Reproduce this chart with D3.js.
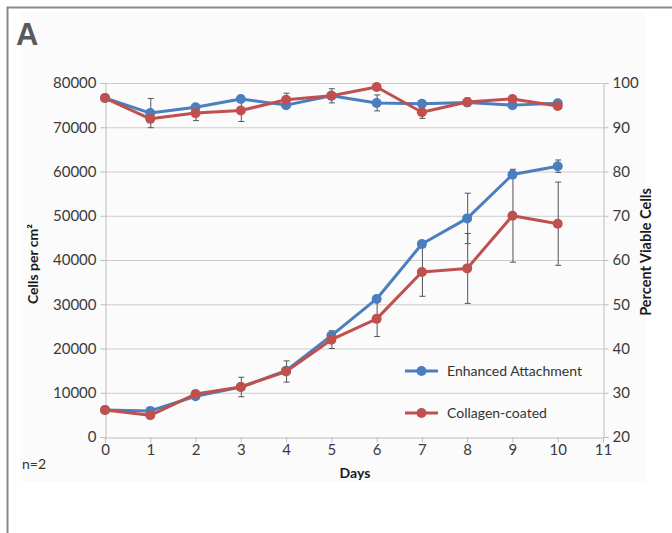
<!DOCTYPE html>
<html>
<head>
<meta charset="utf-8">
<script src="https://cdn.jsdelivr.net/npm/d3@7"></script>
<style>
  body { margin: 0; background: #fff; }
  text { font-family: Lato, "Open Sans", sans-serif; }
</style>
</head>
<body>
<div id="container"></div>
<script>
// data
const days = [0, 1, 2, 3, 4, 5, 6, 7, 8, 9, 10];
const cellsEnhanced = [6100, 5900, 9200, 11300, 15000, 22900, 31200, 43600, 49400, 59300, 61200];
const cellsCollagen = [6100, 4900, 9700, 11300, 14800, 22000, 26700, 37300, 38100, 50000, 48200];
const cellsErrEnhanced = [0, 0, 0, 0, 0, 0, 0, 0, 5700, 0, 1400];
const cellsErrCollagen = [0, 0, 0, 2200, 2400, 2000, 4000, 5500, 7900, 10500, 9400];
const viaEnhanced = [96.6, 93.2, 94.5, 96.4, 95.0, 97.1, 95.5, 95.3, 95.6, 95.0, 95.4];
const viaCollagen = [96.6, 91.9, 93.2, 93.8, 96.2, 97.1, 99.1, 93.4, 95.7, 96.4, 94.8];
const viaErrEnhanced = [0, 3.3, 0, 0, 0, 1.6, 1.8, 0, 0, 0, 0];
const viaErrCollagen = [0, 0, 1.7, 2.5, 1.5, 0, 0, 1.4, 0.9, 0, 0];
const leftTicks = [0, 10000, 20000, 30000, 40000, 50000, 60000, 70000, 80000];
const rightTicks = [20, 30, 40, 50, 60, 70, 80, 90, 100];
const xTicks = [0, 1, 2, 3, 4, 5, 6, 7, 8, 9, 10, 11];
const seriesNames = ["Enhanced Attachment", "Collagen-coated"];

const w = 672;
const h = 533;
const blue = "#4a7ebf";
const red = "#c0504d";
const grid = "#cccccc";
const tickCol = "#3a3a3a";

const x = d3.scaleLinear().domain([0, 11]).range([105, 603]);
const yL = d3.scaleLinear().domain([0, 80000]).range([437, 83]);
const yR = d3.scaleLinear().domain([20, 100]).range([437, 83]);

const svg = d3.select("#container").append("svg")
  .attr("width", w).attr("height", h);

// frame
svg.append("rect").attr("x", 20).attr("y", 12).attr("width", 625).attr("height", 470)
  .attr("fill", "#fbfbfb");
svg.append("path").attr("d", "M7.5,533 V7.5 H672")
  .attr("fill", "none").attr("stroke", "#8a8a8a").attr("stroke-width", 2);

svg.append("text").attr("x", 16).attr("y", 45).text("A")
  .attr("font-size", 31).attr("font-weight", "bold").attr("fill", "#5a5a5a")
  .style("font-family", "'Liberation Sans', Arial, sans-serif");

// gridlines
svg.append("g").selectAll("line").data(leftTicks.slice(1)).enter().append("line")
  .attr("x1", x(0)).attr("x2", x(11))
  .attr("y1", d => yL(d) + 0.5).attr("y2", d => yL(d) + 0.5)
  .attr("stroke", grid);

// axes
function styleAxis(g) {
  g.select(".domain").attr("stroke", "#bdbdbd");
  g.selectAll(".tick line").attr("stroke", "#bdbdbd");
  g.selectAll(".tick text").attr("fill", tickCol).attr("font-size", 15)
    .style("font-family", "Lato, 'Open Sans', sans-serif");
}

svg.append("g").attr("transform", "translate(" + (x(0) + 0.5) + ",0)")
  .call(d3.axisLeft(yL).tickValues(leftTicks).tickFormat(d3.format("d")).tickSizeOuter(0).tickSize(5).tickPadding(4))
  .call(styleAxis);

svg.append("g").attr("transform", "translate(" + (x(11) + 0.5) + ",0)")
  .call(d3.axisRight(yR).tickValues(rightTicks).tickSizeOuter(0).tickSize(5).tickPadding(4))
  .call(styleAxis);

svg.append("g").attr("transform", "translate(0," + (yL(0) + 0.5) + ")")
  .call(d3.axisBottom(x).tickValues(xTicks).tickSizeOuter(0).tickSize(5).tickPadding(2))
  .call(styleAxis);

// axis titles
svg.append("text").attr("transform", "translate(38,264) rotate(-90)")
  .attr("text-anchor", "middle").attr("font-size", 14).attr("font-weight", "bold").attr("fill", "#1a1a1a")
  .text("Cells per cm²");
svg.append("text").attr("transform", "translate(651,252) rotate(-90)")
  .attr("text-anchor", "middle").attr("font-size", 14.5).attr("font-weight", "bold").attr("fill", "#1a1a1a")
  .text("Percent Viable Cells");
svg.append("text").attr("x", 355).attr("y", 478)
  .attr("text-anchor", "middle").attr("font-size", 14).attr("font-weight", "bold").attr("fill", "#1a1a1a")
  .text("Days");
svg.append("text").attr("x", 22).attr("y", 469)
  .attr("font-size", 14).attr("fill", "#333").text("n=2");

// error bars
function errorBars(vals, errs, y) {
  const g = svg.append("g").attr("stroke", "#555").attr("stroke-width", 1);
  days.forEach((d, i) => {
    if (!errs[i]) return;
    const cx = x(d) + 0.5;
    const top = y(vals[i] + errs[i]);
    const bot = y(vals[i] - errs[i]);
    g.append("line").attr("x1", cx).attr("x2", cx).attr("y1", top).attr("y2", bot);
    g.append("line").attr("x1", cx - 3).attr("x2", cx + 3).attr("y1", top).attr("y2", top);
    g.append("line").attr("x1", cx - 3).attr("x2", cx + 3).attr("y1", bot).attr("y2", bot);
  });
}

function series(vals, y, color) {
  svg.append("path").datum(vals)
    .attr("fill", "none").attr("stroke", color).attr("stroke-width", 3)
    .attr("stroke-linejoin", "round")
    .attr("d", d3.line().x((d, i) => x(days[i])).y(d => y(d)));
  svg.append("g").selectAll("circle").data(vals).enter().append("circle")
    .attr("cx", (d, i) => x(days[i])).attr("cy", d => y(d)).attr("r", 5)
    .attr("fill", color);
}

errorBars(cellsEnhanced, cellsErrEnhanced, yL);
errorBars(cellsCollagen, cellsErrCollagen, yL);
errorBars(viaEnhanced, viaErrEnhanced, yR);
errorBars(viaCollagen, viaErrCollagen, yR);

series(cellsEnhanced, yL, blue);
series(cellsCollagen, yL, red);
series(viaEnhanced, yR, blue);
series(viaCollagen, yR, red);

// legend
const legend = svg.append("g");
[blue, red].forEach((c, i) => {
  const ly = 371 + i * 42;
  legend.append("line").attr("x1", 405).attr("x2", 438).attr("y1", ly).attr("y2", ly)
    .attr("stroke", c).attr("stroke-width", 3);
  legend.append("circle").attr("cx", 421.5).attr("cy", ly).attr("r", 5).attr("fill", c);
  legend.append("text").attr("x", 447).attr("y", ly).attr("dy", "0.35em")
    .attr("font-size", 14).attr("fill", "#333").text(seriesNames[i]);
});
</script>
</body>
</html>
